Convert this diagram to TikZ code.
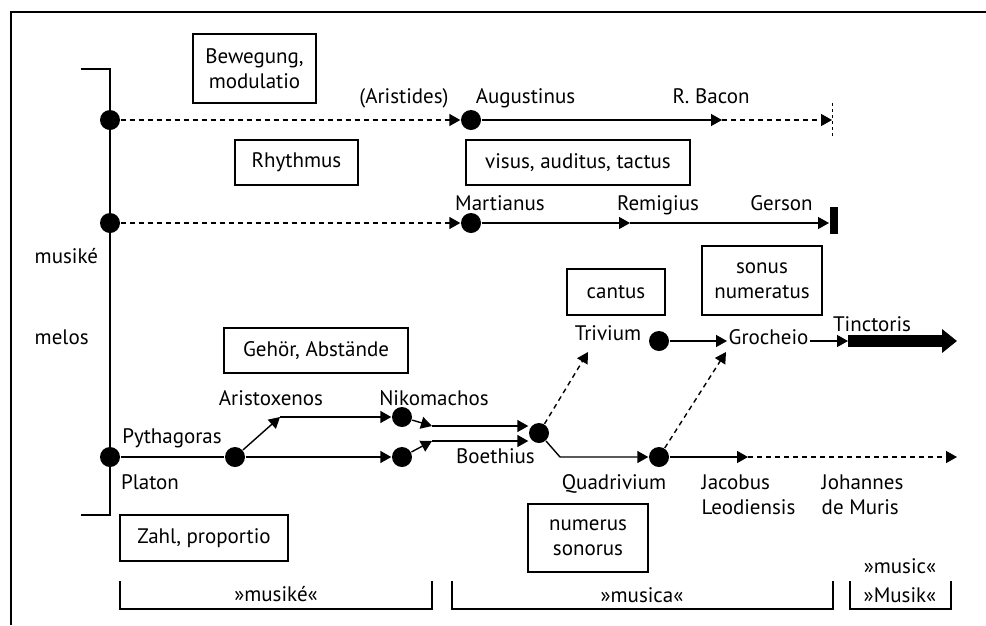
\documentclass[tikz,border=0pt]{standalone}
\usepackage{fontspec}
\setmainfont{PT Sans}
\usetikzlibrary{arrows.meta,positioning}

\begin{document}
\begin{tikzpicture}[x=1pt,y=-1pt,line width=1.4pt,
    every node/.style={font=\fontsize{21}{25}\selectfont},
    dot/.style={circle,fill=black,inner sep=0pt,minimum size=20pt},
    box/.style={draw,align=center,inner sep=0pt},
    lbl/.style={inner sep=1pt,anchor=base},
    tip/.style={-{Triangle[length=11pt,width=12pt]}},
    dsh/.style={dash pattern=on 5pt off 4pt}]
  \useasboundingbox (0,0) rectangle (986,625);
  % frame
  \draw (11,625) -- (11,12) -- (986,12);
  % spine
  \coordinate (spT) at (81,69);
  \coordinate (spB) at (81,515);
  \draw (spT) -- (110,69) -- (110,515) -- (spB);
  \node[lbl,anchor=base west] (musike) at (33,263) {musiké};
  \node[lbl,anchor=base west] (melos) at (33,344) {melos};

  % dots
  \foreach \n/\x/\y in {d1/110/120,aug/471/120,d2/110/223,mar/471/223,
                        pyt/110/457,ari/235/457,nikA/402/417,nikB/402/457,
                        boe/539/433,tri/659/341,qua/659/457}{
    \node[dot] (\n) at (\x,\y) {};
  }

  % boxes
  \node[box,minimum width=123pt,minimum height=69pt] (bew) at (254.5,68.5) {Bewegung,\\modulatio};
  \node[box,minimum width=123pt,minimum height=45pt] (rhy) at (296.5,162.5) {Rhythmus};
  \node[box,minimum width=224pt,minimum height=45pt] (vis) at (578,162.5) {visus, auditus, tactus};
  \node[box,minimum width=98pt,minimum height=46pt] (can) at (616,292) {cantus};
  \node[box,minimum width=120pt,minimum height=69pt] (son) at (762,280.5) {sonus\\numeratus};
  \node[box,minimum width=184pt,minimum height=45pt] (geh) at (316,350.5) {Gehör, Abstände};
  \node[box,minimum width=168pt,minimum height=46pt] (zah) at (204,538) {Zahl, proportio};
  \node[box,minimum width=120pt,minimum height=68pt] (num) at (588,538) {numerus\\sonorus};

  % row 1
  \node[lbl] (arist) at (404,103) {(Aristides)};
  \node[lbl] (augt) at (525.5,103) {Augustinus};
  \node[lbl] (bact) at (711,103) {R. Bacon};
  \coordinate (bac) at (722,120);
  \coordinate (endA) at (832,120);
  \draw[tip,dsh] (d1) -- (aug);
  \draw[tip] (aug) -- (bac);
  \draw[tip,dsh] (bac) -- (endA);
  \draw[dash pattern=on 3pt off 3pt,line width=0.9pt] (832,103) -- (832,137);

  % row 2
  \node[lbl] (mart) at (500,210) {Martianus};
  \node[lbl] (remt) at (658,210) {Remigius};
  \node[lbl] (gert) at (781.5,210) {Gerson};
  \node[fill,inner sep=0pt,minimum width=8pt,minimum height=27pt,anchor=west] (bar) at (829,220.5) {};
  \coordinate (rem) at (630,223);
  \draw[tip,dsh] (d2) -- (mar);
  \draw[tip] (mar) -- (rem);
  \draw[tip] (rem) -- (rem -| bar.west);

  % row 3
  \node[lbl] (pytt) at (172,443) {Pythagoras};
  \node[lbl] (plat) at (150,489) {Platon};
  \node[lbl] (arit) at (271,405.5) {Aristoxenos};
  \node[lbl] (nikt) at (434,405.5) {Nikomachos};
  \node[lbl] (boet) at (495.5,463) {Boethius};
  \node[lbl] (trit) at (608,340.5) {Trivium};
  \node[lbl,anchor=base west] (groc) at (727,344) {Grocheio};
  \node[lbl] (tint) at (872,331) {Tinctoris};
  \node[lbl] (quat) at (614,489) {Quadrivium};
  \node[lbl,anchor=north west,align=left] (jact) at (700,473) {Jacobus\\Leodiensis};
  \node[lbl,anchor=north west,align=left] (joht) at (820,473) {Johannes\\de Muris};

  \coordinate (aU) at (280,417);
  \coordinate (nU) at (432,426);
  \coordinate (nL) at (432,441);
  \coordinate (bq) at (560,457);
  \coordinate (tv) at (588,352);
  \coordinate (gq) at (726,352);
  \coordinate (jac) at (748,457);
  \coordinate (jend) at (957,457);
  \coordinate (tinA) at (848,341);
  \coordinate (tinB) at (957,341);
  \draw (pyt) -- (ari);
  \draw[tip] (ari) -- (aU);
  \draw[tip] (aU) -- (nikA);
  \draw[tip] (ari) -- (nikB);
  \draw[tip] (nikA) -- (nU);
  \draw[tip] (nikB) -- (nL);
  \draw[tip] (nU) -- (nU -| boe.west);
  \draw[tip] (nL) -- (nL -| boe.west);
  \draw[tip] (boe) -- (bq) -- (qua);
  \draw[tip,dsh] (boe) -- (tv);
  \draw[tip] (tri) -- (tri -| groc.west);
  \draw[tip,dsh] (qua) -- (gq);
  \draw[tip] (groc.east |- tri) -- (tri -| tinA);
  \draw[line width=12pt,-{Triangle[length=15pt 0,width=23pt 0]}] (tinA) -- (tinB);
  \draw[tip] (qua) -- (jac);
  \draw[tip,dsh] (jac) -- (jend);

  % periods
  \foreach \l/\r in {120/432,452/833,850/951}{
    \draw (\l,581) |- (\r,609) -- (\r,581);
  }
  \node[lbl] (mke) at (276,601) {»musiké«};
  \node[lbl] (mca) at (642,602) {»musica«};
  \node[lbl] (msc) at (900,573) {»music«};
  \node[lbl] (msk) at (900,602) {»Musik«};
\end{tikzpicture}
\end{document}
